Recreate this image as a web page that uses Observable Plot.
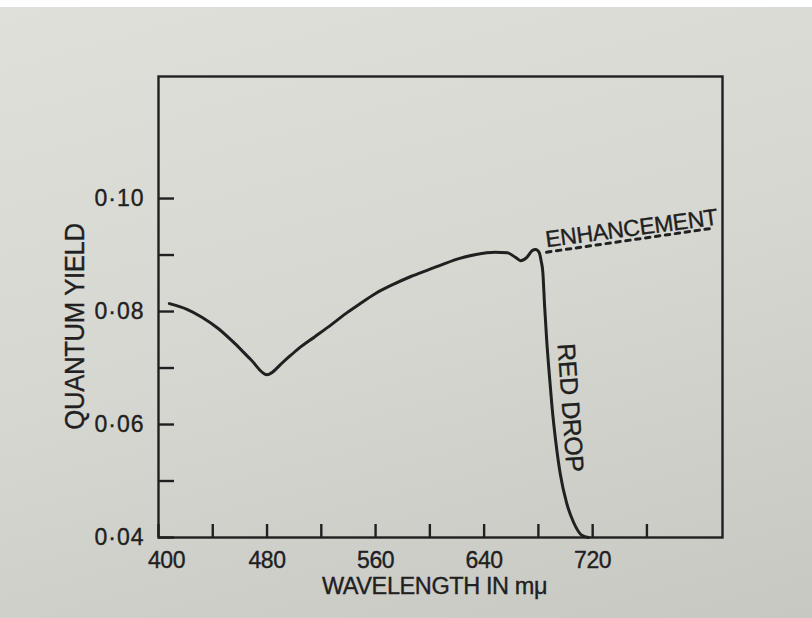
<!DOCTYPE html>
<html>
<head>
<meta charset="utf-8">
<script src="https://cdn.jsdelivr.net/npm/d3@7"></script>
<script src="https://cdn.jsdelivr.net/npm/@observablehq/plot@0.6"></script>
<style>
  html, body { margin: 0; padding: 0; }
  body {
    width: 812px; height: 618px; overflow: hidden;
    background:
      linear-gradient(#ffffff 0 7px, transparent 7px),
      linear-gradient(165deg, #e0e0db 0%, #d7d7d2 50%, #c8c8c3 100%);
  }
  svg { display: block; }
  .cond text { letter-spacing: -0.4px; stroke: #202020; stroke-width: 0.35px; }
  .cond g[aria-label="y-axis tick label"] text { letter-spacing: 1px; }
</style>
</head>
<body>
<div id="chart"></div>
<script>
// ---- data ----
const wavelength = [408, 421, 432, 444, 456, 468, 480, 492, 503, 515, 527, 539, 548, 560, 573, 586, 598, 610, 622, 634, 648, 657, 663, 667, 671.5, 675.5, 678, 680.5, 682, 683.3, 684.6, 686.1, 688, 690.1, 692.8, 696.3, 700.7, 705.9, 712, 717];
const quantumYield = [0.0814, 0.0804, 0.0790, 0.0770, 0.0744, 0.0715, 0.0688, 0.0711, 0.0734, 0.0755, 0.0776, 0.0798, 0.0813, 0.0832, 0.0848, 0.0862, 0.0873, 0.0884, 0.0894, 0.0901, 0.0905, 0.0904, 0.0896, 0.0890, 0.0896, 0.0908, 0.0910, 0.0905, 0.0890, 0.0869, 0.0809, 0.0750, 0.0690, 0.0630, 0.0570, 0.0510, 0.0462, 0.0427, 0.0404, 0.0400];

const enhancementWavelength = [686, 810];
const enhancementYield = [0.0905, 0.0948];

const xMajorTicks = [400, 480, 560, 640, 720];
const xTickLabels = ["400", "480", "560", "640", "720"];
const xMinorTicks = [440, 520, 600, 680, 760];
const yMajorTicks = [0.04, 0.06, 0.08, 0.10];
const yTickLabels = ["0·04", "0·06", "0·08", "0·10"];
const yMinorTicks = [0.05, 0.07, 0.09];

const xTitle = "WAVELENGTH IN mμ";
const yTitle = "QUANTUM YIELD";
const enhancementLabel = "ENHANCEMENT";
const redDropLabel = "RED DROP";

// ---- build ----
const curve = wavelength.map((w, i) => ({w, q: quantumYield[i]}));
const enhancement = enhancementWavelength.map((w, i) => ({w, q: enhancementYield[i]}));
const dropPoint = curve.find(d => d.w > 680 && d.q <= 0.0631);

const W = 812, H = 618;
const ML = 158, MR = 90, MT = 76, MB = 81;
const PW = W - ML - MR, PH = H - MT - MB;
const INK = "#202020";
const FONT = "'Liberation Sans', Arial, Helvetica, sans-serif";
const xLabel = d => xTickLabels[xMajorTicks.indexOf(d)];

const chart = Plot.plot({
  width: W, height: H,
  marginLeft: ML, marginRight: MR, marginTop: MT, marginBottom: MB,
  x: {domain: [400, 815.7]},
  y: {domain: [0.04, 0.1216]},
  style: {background: "transparent", fontFamily: FONT, color: INK, overflow: "visible"},
  marks: [
    Plot.frame({stroke: INK, strokeWidth: 2.4}),
    Plot.ruleX([...xMajorTicks, ...xMinorTicks], {x: d => d, insetTop: PH - 13, stroke: INK, strokeWidth: 2.4}),
    Plot.ruleY([...yMajorTicks, ...yMinorTicks], {y: d => d, insetRight: PW - 16, stroke: INK, strokeWidth: 2.4}),
    Plot.axisX(xMajorTicks.slice(0, 1), {
      tickSize: 0, tickPadding: 14, fontSize: 23, fill: INK, label: null, dx: 8,
      tickFormat: xLabel
    }),
    Plot.axisX(xMajorTicks.slice(1), {
      tickSize: 0, tickPadding: 14, fontSize: 23, fill: INK, label: null,
      tickFormat: xLabel
    }),
    Plot.axisY(yMajorTicks, {
      tickSize: 0, tickPadding: 14, fontSize: 23, fill: INK, label: null,
      tickFormat: d => yTickLabels[yMajorTicks.findIndex(t => Math.abs(t - d) < 1e-9)]
    }),
    Plot.line(curve, {x: "w", y: "q", curve: "monotone-x", stroke: INK, strokeWidth: 3}),
    Plot.line(enhancement, {x: "w", y: "q", stroke: INK, strokeWidth: 3, strokeDasharray: "4.5,5.5"}),
    Plot.text([enhancementLabel], {
      x: () => enhancementWavelength[0], y: () => enhancementYield[0], text: d => d,
      textAnchor: "start", lineAnchor: "bottom", rotate: -7.5, dy: -5, dx: 0,
      fontSize: 23, fill: INK
    }),
    Plot.text([redDropLabel], {
      x: () => dropPoint.w, y: () => dropPoint.q, text: d => d,
      textAnchor: "middle", lineAnchor: "middle", rotate: 86, dx: 18,
      fontSize: 25, fill: INK
    }),
    Plot.text([yTitle], {
      frameAnchor: "left", text: d => d, rotate: -90, dx: -83, dy: 19.5,
      textAnchor: "middle", lineAnchor: "middle", fontSize: 28, fill: INK
    }),
    Plot.text([xTitle], {
      frameAnchor: "bottom", text: d => d, dx: -6, dy: 56,
      textAnchor: "middle", lineAnchor: "bottom", fontSize: 23.5, fill: INK
    })
  ]
});
chart.classList.add("cond");
// condense the vertical axis title (the printed face is narrower than Arial)
d3.select(chart).selectAll("text")
  .filter(function () { return this.textContent === yTitle; })
  .attr("transform", function () { return (this.getAttribute("transform") || "") + " scale(0.92,1)"; });
document.getElementById("chart").appendChild(chart);
</script>
</body>
</html>
